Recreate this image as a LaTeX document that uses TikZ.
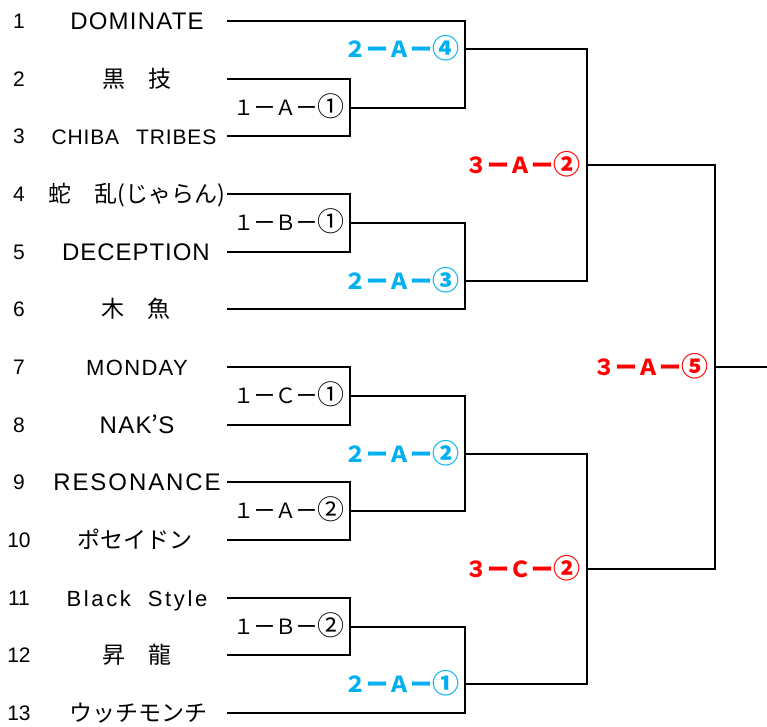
\documentclass[tikz,border=0pt]{standalone}
\usepackage{fontspec}
\setmainfont{Liberation Sans}
\newfontfamily\cjk{Noto Sans CJK JP}
\usetikzlibrary{calc}
\definecolor{roundtwo}{RGB}{0,176,240}
\definecolor{roundthree}{RGB}{255,0,0}
\newcommand{\ringnum}[1]{{\fontsize{27}{27}\selectfont\raisebox{-1pt}{#1}}}
\tikzset{
  bracket/.style={line width=2pt},
  seed/.style={anchor=base,yshift=-7.5pt,inner sep=0pt,font=\fontsize{21}{21}\selectfont},
  team/.style={anchor=base,yshift=-8.5pt,inner sep=0pt,font=\fontsize{24}{24}\selectfont\addfontfeature{LetterSpace=5}},
  teamjp/.style={anchor=base,yshift=-8.5pt,inner sep=0pt,font=\cjk\fontsize{23}{23}\selectfont},
  game/.style={anchor=base east,xshift=-5pt,yshift=-7.5pt,inner sep=0pt,font=\cjk\fontsize{21}{21}\selectfont},
  gametwo/.style={anchor=base east,xshift=-5pt,yshift=-8pt,inner sep=0pt,roundtwo,font=\cjk\bfseries\fontsize{22}{22}\selectfont},
  gamethree/.style={anchor=base east,xshift=-6pt,yshift=-8pt,inner sep=0pt,roundthree,font=\cjk\bfseries\fontsize{22}{22}\selectfont}
}

\begin{document}
\begin{tikzpicture}[x=1pt,y=-1pt]
\useasboundingbox (0,0) rectangle (767,726);
\foreach \i/\y in {1/21,2/79,3/136,4/194,5/252,6/309,7/367,8/425,9/482,10/540,11/598,12/655,13/713} {
  \node[seed] (n\i) at (19,\y) {\i};
  \coordinate (p\i) at (227,\y);
}
\node[team] (t1) at (137,21) {DOMINATE};
\node[teamjp] (t2) at (137,79) {黒　技};
\node[team,font=\fontsize{21}{21}\selectfont\addfontfeature{LetterSpace=4}] (t3) at (134,136) {CHIBA\hspace{17pt}TRIBES};
\node[teamjp] (t4) at (137,194) {蛇　乱(じゃらん)};
\node[team,font=\fontsize{24}{24}\selectfont\addfontfeature{LetterSpace=4}] (t5) at (136,252) {DECEPTION};
\node[teamjp] (t6) at (136,309) {木　魚};
\node[team,font=\fontsize{22}{22}\selectfont\addfontfeature{LetterSpace=6}] (t7) at (137,367) {MONDAY};
\node[team,font=\fontsize{24}{24}\selectfont\addfontfeature{LetterSpace=6}] (t8) at (137,425) {NAK{\cjk ’}S};
\node[team,font=\fontsize{24}{24}\selectfont\addfontfeature{LetterSpace=8}] (t9) at (137,482) {RESONANCE};
\node[teamjp] (t10) at (135,540) {ポセイドン};
\node[team,font=\fontsize{22}{22}\selectfont\addfontfeature{LetterSpace=12}] (t11) at (137,598) {Black\hspace{17pt}Style};
\node[teamjp] (t12) at (137,655) {昇　龍};
\node[teamjp] (t13) at (138,713) {ウッチモンチ};

\coordinate (w1A1) at (350,108);
\coordinate (w1B1) at (350,223);
\coordinate (w1C1) at (350,396);
\coordinate (w1A2) at (350,511);
\coordinate (w1B2) at (350,627);
\coordinate (w2A4) at (465,49);
\coordinate (w2A3) at (465,281);
\coordinate (w2A2) at (465,454);
\coordinate (w2A1) at (465,684);
\coordinate (w3A2) at (587,165);
\coordinate (w3C2) at (587,569);
\coordinate (w3A5) at (715,367);
\coordinate (champ) at (767,367);

\draw[bracket] (p2) -| (w1A1) |- (p3);
\draw[bracket] (p4) -| (w1B1) |- (p5);
\draw[bracket] (p7) -| (w1C1) |- (p8);
\draw[bracket] (p9) -| (w1A2) |- (p10);
\draw[bracket] (p11) -| (w1B2) |- (p12);
\draw[bracket] (p1) -| (w2A4) |- (w1A1);
\draw[bracket] (w1B1) -| (w2A3) |- (p6);
\draw[bracket] (w1C1) -| (w2A2) |- (w1A2);
\draw[bracket] (w1B2) -| (w2A1) |- (p13);
\draw[bracket] (w2A4) -| (w3A2) |- (w2A3);
\draw[bracket] (w2A2) -| (w3C2) |- (w2A1);
\draw[bracket] (w3A2) -| (w3A5) |- (w3C2);
\draw[bracket] (w3A5) -- (champ);

\node[game] (l1A1) at (w1A1) {１ーＡー\ringnum{①}};
\node[game] (l1B1) at (w1B1) {１ーＢー\ringnum{①}};
\node[game] (l1C1) at (w1C1) {１ーＣー\ringnum{①}};
\node[game] (l1A2) at (w1A2) {１ーＡー\ringnum{②}};
\node[game] (l1B2) at (w1B2) {１ーＢー\ringnum{②}};
\node[gametwo] (l2A4) at (w2A4) {２ーＡー\ringnum{④}};
\node[gametwo] (l2A3) at (w2A3) {２ーＡー\ringnum{③}};
\node[gametwo] (l2A2) at (w2A2) {２ーＡー\ringnum{②}};
\node[gametwo] (l2A1) at (w2A1) {２ーＡー\ringnum{①}};
\node[gamethree] (l3A2) at (w3A2) {３ーＡー\ringnum{②}};
\node[gamethree] (l3C2) at (w3C2) {３ーＣー\ringnum{②}};
\node[gamethree] (l3A5) at (w3A5) {３ーＡー\ringnum{⑤}};
\end{tikzpicture}
\end{document}
